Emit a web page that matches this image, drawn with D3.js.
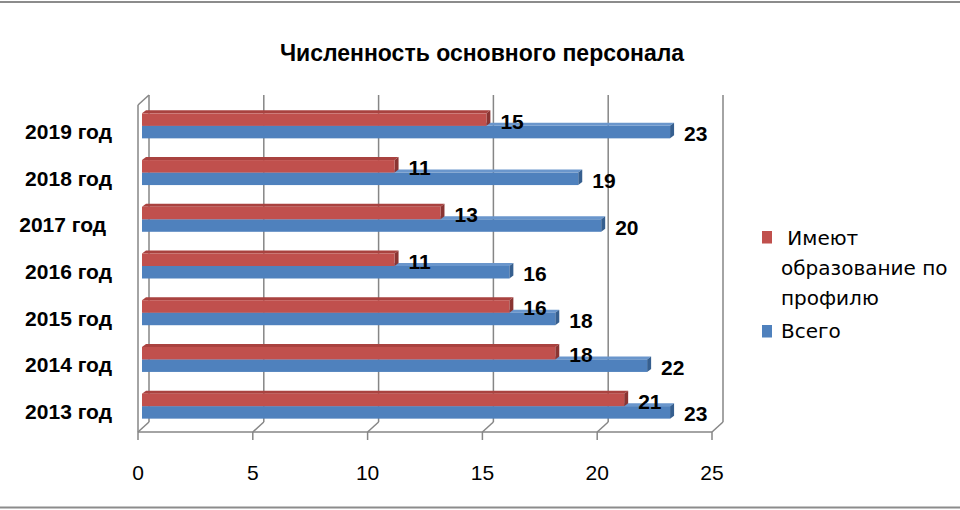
<!DOCTYPE html>
<html>
<head>
<meta charset="utf-8">
<script src="https://cdn.jsdelivr.net/npm/d3@7"></script>
<style>
  body { margin: 0; background: #fff; }
  text { font-family: "Liberation Sans", Arial, sans-serif; fill: #000; white-space: pre; }
</style>
</head>
<body>
<div id="chart"></div>
<script>
// Chart data, top row first (as drawn)
var years = ["2019 год", "2018 год", "2017 год ", "2016 год", "2015 год", "2014 год", "2013 год"];
var eduValues = [15, 11, 13, 11, 16, 18, 21];     // Имеют образование по профилю
var totalValues = [23, 19, 20, 16, 18, 22, 23];   // Всего
var xTicks = [0, 5, 10, 15, 20, 25];
var legendEdu = [" Имеют", "образование по", "профилю"];
var legendTotal = "Всего";
var title = "Численность основного персонала";

var width = 960, height = 510;
var depth = {dx: 11, dy: 10};      // wall depth (front plane -> back wall)
var barShift = {dx: 4, dy: 2.5};   // bars sit a bit behind the front plane
var barDepth = {dx: 4, dy: 3};     // visible thickness of each bar
var barH = 12.5;

var colors = {
    edu: {front: "#C0504D", top: "#A9423F", side: "#8A3432"},
    total: {front: "#4F81BD", top: "#6A96CC", side: "#365F8F"}
};

var svg = d3.select("#chart").append("svg")
    .attr("width", width).attr("height", height);

svg.append("rect").attr("width", width).attr("height", height).attr("fill", "#fff");

// outer frame lines
svg.append("line").attr("x1", 0).attr("x2", width).attr("y1", 2).attr("y2", 2)
    .attr("stroke", "#8c8c8c").attr("stroke-width", 2);
svg.append("line").attr("x1", 0).attr("x2", width).attr("y1", 507.5).attr("y2", 507.5)
    .attr("stroke", "#8c8c8c").attr("stroke-width", 2);

// scales on the front plane
var x = d3.scaleLinear().domain([0, 25]).range([138, 712]);
var y = d3.scaleBand().domain(years).range([105, 432]);
var top0 = y.range()[0], bottom0 = y.range()[1];

var grid = svg.append("g").attr("stroke", "#868686").attr("stroke-width", 1.5).attr("fill", "none");

// back wall gridlines
grid.selectAll(".gridline").data(xTicks).enter().append("line")
    .attr("class", "gridline")
    .attr("x1", function (d) { return x(d) + depth.dx; })
    .attr("x2", function (d) { return x(d) + depth.dx; })
    .attr("y1", top0 - depth.dy)
    .attr("y2", bottom0 - depth.dy);

// floor diagonals
grid.selectAll(".floorline").data(xTicks).enter().append("line")
    .attr("class", "floorline")
    .attr("x1", function (d) { return x(d); })
    .attr("x2", function (d) { return x(d) + depth.dx; })
    .attr("y1", bottom0)
    .attr("y2", bottom0 - depth.dy);

// front floor edge, left wall edges
grid.append("line").attr("x1", x(0)).attr("x2", x(25)).attr("y1", bottom0).attr("y2", bottom0);
grid.append("line").attr("x1", x(0)).attr("x2", x(0)).attr("y1", top0).attr("y2", bottom0);
grid.append("line").attr("x1", x(0)).attr("x2", x(0) + depth.dx)
    .attr("y1", top0).attr("y2", top0 - depth.dy);

// tick marks
grid.selectAll(".tick").data(xTicks).enter().append("line")
    .attr("class", "tick")
    .attr("x1", function (d) { return x(d); })
    .attr("x2", function (d) { return x(d); })
    .attr("y1", bottom0)
    .attr("y2", bottom0 + 8);

// tick labels
svg.selectAll(".tickLabel").data(xTicks).enter().append("text")
    .attr("class", "tickLabel")
    .attr("x", function (d) { return x(d); })
    .attr("y", 472)
    .attr("text-anchor", "middle")
    .attr("dominant-baseline", "central")
    .style("font-size", "21px")
    .text(function (d) { return d; });

// draws one bar with its front, top and side faces
function bar3d(g, v, yTop, c) {
    var x0 = x(0) + barShift.dx, x1 = x(v) + barShift.dx;
    var d = barDepth;
    g.append("polygon")
        .attr("points", [[x0, yTop], [x0 + d.dx, yTop - d.dy], [x1 + d.dx, yTop - d.dy], [x1, yTop]].join(" "))
        .attr("fill", c.top);
    g.append("polygon")
        .attr("points", [[x1, yTop], [x1 + d.dx, yTop - d.dy], [x1 + d.dx, yTop + barH - d.dy], [x1, yTop + barH]].join(" "))
        .attr("fill", c.side);
    g.append("rect")
        .attr("x", x0).attr("y", yTop)
        .attr("width", x1 - x0).attr("height", barH)
        .attr("fill", c.front);
}

var bars = svg.append("g");
years.forEach(function (yr, i) {
    var yc = y(yr) + y.bandwidth() / 2 - barShift.dy;
    var g = bars.append("g");
    bar3d(g, totalValues[i], yc, colors.total);
    bar3d(g, eduValues[i], yc - barH, colors.edu);
});

// value labels
var labels = svg.append("g").style("font-size", "21px").style("font-weight", "bold");
labels.selectAll(".eduLabel").data(eduValues).enter().append("text")
    .attr("x", function (d) { return x(d) + 18; })
    .attr("y", function (d, i) { return y(years[i]) + y.bandwidth() / 2 - barShift.dy - barH / 2 + 1.5; })
    .attr("dominant-baseline", "central")
    .text(function (d) { return d; });
labels.selectAll(".totalLabel").data(totalValues).enter().append("text")
    .attr("x", function (d) { return x(d) + 18; })
    .attr("y", function (d, i) { return y(years[i]) + y.bandwidth() / 2 - barShift.dy + barH / 2 + 1.5; })
    .attr("dominant-baseline", "central")
    .text(function (d) { return d; });

// category labels
svg.selectAll(".catLabel").data(years).enter().append("text")
    .attr("x", 112)
    .attr("y", function (d) { return y(d) + y.bandwidth() / 2 + 3; })
    .attr("text-anchor", "end")
    .attr("dominant-baseline", "central")
    .style("font-size", "21px").style("font-weight", "bold")
    .text(function (d) { return d; });

// title
svg.append("text")
    .attr("x", 482).attr("y", 53)
    .attr("text-anchor", "middle")
    .attr("dominant-baseline", "central")
    .style("font-size", "23px").style("font-weight", "bold")
    .text(title);

// legend
var legend = svg.append("g").style("font-family", "'DejaVu Sans', sans-serif").style("font-size", "20px");
legend.append("rect").attr("x", 762).attr("y", 231).attr("width", 10).attr("height", 12.5).attr("fill", colors.edu.front);
legend.selectAll(".legEdu").data(legendEdu).enter().append("text")
    .attr("x", 781)
    .attr("y", function (d, i) { return 245 + i * 30; })
    .style("font-family", "'DejaVu Sans', sans-serif")
    .text(function (d) { return d; });
legend.append("rect").attr("x", 762).attr("y", 325).attr("width", 10).attr("height", 12.5).attr("fill", colors.total.front);
legend.append("text").attr("x", 781).attr("y", 338)
    .style("font-family", "'DejaVu Sans', sans-serif")
    .text(legendTotal);
</script>
</body>
</html>
